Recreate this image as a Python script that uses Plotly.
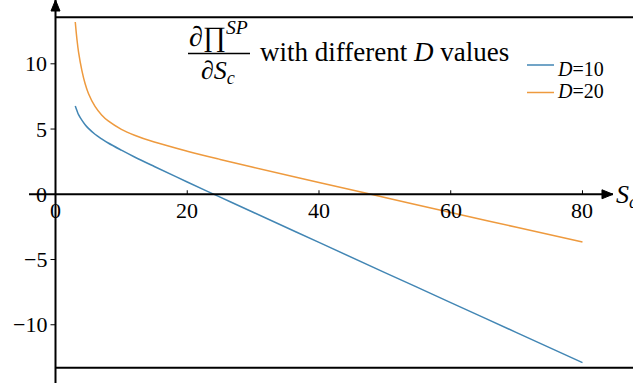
import plotly.graph_objects as go

# Marginal effect of S_c for two values of D
s_values = [3, 3.25, 3.5, 4, 4.5, 5, 6, 7, 8, 10, 12, 15, 20, 25, 30, 40, 50, 60, 70, 80]
d10_values = [6.77, 6.42, 6.1, 5.68, 5.33, 5.05, 4.6, 4.25, 3.93, 3.38, 2.86, 2.13, 0.94,
              -0.22, -1.38, -3.69, -6.0, -8.3, -10.6, -12.9]
d20_values = [13.2, 11.9, 10.9, 9.5, 8.47, 7.73, 6.73, 6.08, 5.62, 4.98, 4.53, 4.0, 3.3,
              2.67, 2.07, 0.91, -0.24, -1.4, -2.53, -3.66]

series_names = ["<i>D</i>=10", "<i>D</i>=20"]
x_ticks = [0, 20, 40, 60, 80]
y_ticks = [-10, -5, 0, 5, 10]

W, H = 633, 387
X_RANGE = [-8.425, 87.67]
Y_RANGE = [-14.77, 14.89]
X_AXIS_SPAN = [-4.02, 84.63]
Y_AXIS_SPAN = [-14.46, Y_RANGE[1]]
BLUE = "#4286b4"
ORANGE = "#ee9a3e"
FONT = "Liberation Serif"


def px(x):
    return x / W


def py(y):
    return 1 - y / H


def fmt(v):
    return str(v).replace("-", "\u2212")


fig = go.Figure()
for vals, color in [(d10_values, BLUE), (d20_values, ORANGE)]:
    fig.add_trace(go.Scatter(
        x=s_values, y=vals, mode="lines",
        line=dict(color=color, width=1.5, shape="spline", smoothing=1),
        showlegend=False, hoverinfo="skip",
    ))

shapes = []
annotations = []
black = dict(color="black", width=2)

# axis lines crossing at the origin, with filled arrowheads
shapes.append(dict(type="line", xref="x", yref="y", x0=X_AXIS_SPAN[0], x1=X_AXIS_SPAN[1],
                   y0=0, y1=0, line=black))
shapes.append(dict(type="line", xref="x", yref="y", x0=0, x1=0,
                   y0=Y_AXIS_SPAN[0], y1=Y_AXIS_SPAN[1], line=black))
shapes.append(dict(type="path", xref="x", yref="y", xsizemode="pixel", ysizemode="pixel",
                   xanchor=X_AXIS_SPAN[1], yanchor=0, path="M -11,-4.5 L 0,0 L -11,4.5 Z",
                   fillcolor="black", line=dict(color="black", width=1)))
shapes.append(dict(type="path", xref="x", yref="y", xsizemode="pixel", ysizemode="pixel",
                   xanchor=0, yanchor=Y_AXIS_SPAN[1], path="M -4.5,-11 L 0,0 L 4.5,-11 Z",
                   fillcolor="black", line=dict(color="black", width=1)))

# horizontal bounding lines
for yv in (13.56, -13.29):
    shapes.append(dict(type="line", xref="x", yref="y", x0=0, x1=X_RANGE[1], y0=yv, y1=yv,
                       line=black))

# tick marks and tick labels
for t in x_ticks:
    if t != 0:
        shapes.append(dict(type="line", xref="x", yref="y", x0=t, x1=t,
                           ysizemode="pixel", yanchor=0, y0=0, y1=4,
                           line=dict(color="black", width=1)))
    annotations.append(dict(x=t, y=0, xref="x", yref="y", text=fmt(t), showarrow=False,
                            xanchor="center", yanchor="middle", yshift=-16,
                            font=dict(family=FONT, size=22, color="black")))
for t in y_ticks:
    if t != 0:
        shapes.append(dict(type="line", xref="x", yref="y", y0=t, y1=t,
                           xsizemode="pixel", xanchor=0, x0=-5, x1=0,
                           line=dict(color="black", width=1)))
    annotations.append(dict(x=0, y=t, xref="x", yref="y", text=fmt(t), showarrow=False,
                            xanchor="right", yanchor="middle", xshift=-7,
                            font=dict(family=FONT, size=22, color="black")))

# axis title
annotations.append(dict(x=X_AXIS_SPAN[1], y=0, xref="x", yref="y",
                        text="<i>S</i><sub><i>c</i></sub>",
                        showarrow=False, xanchor="left", yanchor="middle", xshift=1, yshift=-2,
                        font=dict(family=FONT, size=26, color="black")))

# title as a fraction
annotations.append(dict(x=px(218), y=py(35), xref="paper", yref="paper",
                        text="\u2202\u220f<sup><i>SP</i></sup>", showarrow=False,
                        xanchor="center", yanchor="middle",
                        font=dict(family=FONT, size=28, color="black")))
shapes.append(dict(type="line", xref="paper", yref="paper", x0=px(188), x1=px(250),
                   y0=py(53.5), y1=py(53.5), line=dict(color="black", width=1.5)))
annotations.append(dict(x=px(218), y=py(72), xref="paper", yref="paper",
                        text="\u2202<i>S</i><sub><i>c</i></sub>", showarrow=False,
                        xanchor="center", yanchor="middle",
                        font=dict(family=FONT, size=26, color="black")))
annotations.append(dict(x=px(258), y=py(52), xref="paper", yref="paper",
                        text="with different <i>D</i> values", showarrow=False,
                        xanchor="left", yanchor="middle",
                        font=dict(family=FONT, size=27, color="black")))

# legend
for name, color, ly, ty in [(series_names[0], BLUE, 65, 69), (series_names[1], ORANGE, 92.5, 91)]:
    shapes.append(dict(type="line", xref="paper", yref="paper", x0=px(527), x1=px(554),
                       y0=py(ly), y1=py(ly), line=dict(color=color, width=1.5)))
    annotations.append(dict(x=px(555), y=py(ty), xref="paper", yref="paper", text=name,
                            showarrow=False, xanchor="left", yanchor="middle",
                            font=dict(family=FONT, size=20, color="black")))

fig.update_layout(
    width=W, height=H,
    margin=dict(l=0, r=0, t=0, b=0),
    paper_bgcolor="white", plot_bgcolor="white",
    xaxis=dict(range=X_RANGE, visible=False, fixedrange=True),
    yaxis=dict(range=Y_RANGE, visible=False, fixedrange=True),
    shapes=shapes, annotations=annotations,
    showlegend=False,
)

fig.write_html("out.html")
